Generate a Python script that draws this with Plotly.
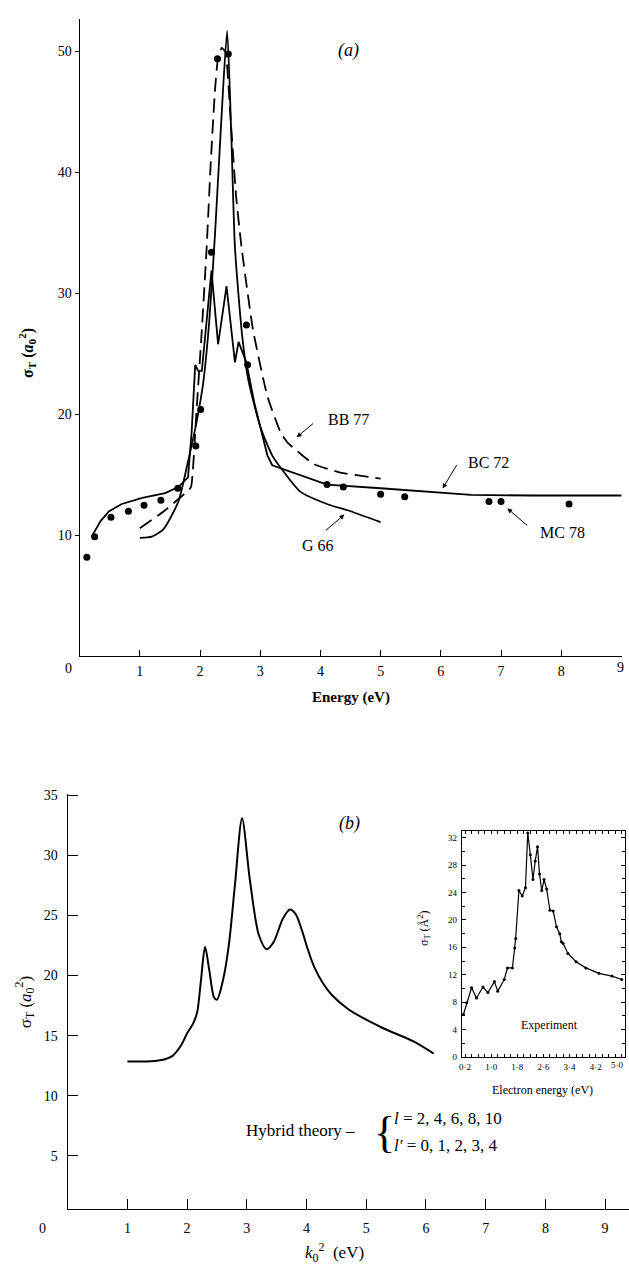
import plotly.graph_objects as go

W, H = 629, 1285
SERIF = "Liberation Serif, Times New Roman, serif"

# ---------------- Panel (a) data ----------------
bc72_e = [0.2, 0.35, 0.49, 0.7, 1.04, 1.42, 1.64, 1.8, 1.86, 1.92, 1.97, 2.03, 2.19, 2.3, 2.44, 2.58, 2.64, 2.77, 2.9, 3.0, 3.12, 3.2, 3.67, 4.11, 5.0, 6.0, 6.5, 7.5, 9.0]
bc72_s = [9.9, 11.2, 12.0, 12.6, 13.1, 13.5, 14.0, 14.8, 18.5, 24.1, 23.6, 23.6, 31.9, 25.8, 30.6, 24.3, 26.0, 24.3, 21.0, 19.1, 16.6, 15.8, 15.0, 14.2, 13.9, 13.5, 13.35, 13.3, 13.3]

g66_e = [1.0, 1.2, 1.39, 1.64, 1.8, 1.94, 2.05, 2.15, 2.25, 2.35, 2.45, 2.52, 2.58, 2.7, 2.8, 3.0, 3.2, 3.4, 3.67, 4.11, 4.5, 5.0]
g66_s = [9.8, 9.9, 10.5, 12.8, 16.1, 19.3, 22.5, 27.5, 35.0, 44.0, 51.7, 43.0, 33.8, 26.5, 22.9, 19.0, 16.6, 15.2, 13.6, 12.6, 12.0, 11.1]

bb77_e = [1.0, 1.4, 1.8, 1.85, 1.94, 2.03, 2.11, 2.18, 2.25, 2.3, 2.36, 2.42, 2.5, 2.6, 2.69, 2.88, 3.12, 3.34, 3.45, 3.89, 4.33, 5.0]
bb77_s = [10.6, 12.0, 13.7, 14.0, 20.2, 27.0, 33.8, 41.0, 46.9, 49.5, 50.3, 50.0, 45.0, 38.0, 33.8, 27.0, 21.5, 18.5, 17.7, 15.9, 15.2, 14.7]

mc78_e = [0.12, 0.25, 0.52, 0.81, 1.07, 1.35, 1.63, 1.93, 2.01, 2.19, 2.29, 2.47, 2.77, 2.79, 4.11, 4.38, 5.0, 5.4, 6.8, 7.0, 8.13]
mc78_s = [8.2, 9.9, 11.5, 12.0, 12.5, 12.9, 13.9, 17.4, 20.4, 33.4, 49.4, 49.8, 27.4, 24.1, 14.2, 14.0, 13.4, 13.2, 12.8, 12.8, 12.6]

a_xticks = [1, 2, 3, 4, 5, 6, 7, 8, 9]
a_xtext = ["1", "2", "3", "4", "5", "6", "7", "8", ""]
a_last_label = "9"
a_yticks = [10, 20, 30, 40, 50]

# ---------------- Panel (b) data ----------------
hyb_k2 = [1.0, 1.3, 1.55, 1.75, 1.9, 2.0, 2.1, 2.17, 2.23, 2.3, 2.37, 2.45, 2.5, 2.6, 2.7, 2.8, 2.92, 3.05, 3.2, 3.33, 3.45, 3.6, 3.72, 3.82, 3.92, 4.02, 4.13, 4.27, 4.42, 4.7, 5.25, 5.8, 6.13]
hyb_s = [12.85, 12.85, 12.95, 13.3, 14.2, 15.2, 16.0, 17.0, 19.5, 22.4, 20.5, 18.2, 18.0, 19.6, 22.6, 27.5, 33.1, 28.0, 23.4, 22.2, 22.8, 24.7, 25.5, 25.1, 23.8, 22.2, 20.7, 19.4, 18.4, 17.2, 15.7, 14.5, 13.5]
b_xticks = [1, 2, 3, 4, 5, 6, 7, 8, 9]
b_yticks = [5, 10, 15, 20, 25, 30, 35]

# ---------------- Inset (experiment) data ----------------
exp_e = [0.15, 0.25, 0.4, 0.55, 0.75, 0.9, 1.1, 1.2, 1.4, 1.5, 1.65, 1.72, 1.75, 1.85, 1.95, 2.05, 2.12, 2.2, 2.28, 2.35, 2.42, 2.48, 2.55, 2.62, 2.7, 2.8, 2.9, 3.0, 3.1, 3.15, 3.2, 3.35, 3.6, 3.9, 4.3, 4.7, 5.0]
exp_s = [6.2, 7.9, 10.1, 8.6, 10.2, 9.4, 11.0, 9.6, 11.3, 13.0, 13.0, 15.9, 17.3, 24.3, 23.5, 24.7, 32.7, 29.5, 25.9, 28.6, 30.7, 26.7, 24.3, 25.9, 24.5, 21.4, 21.3, 19.0, 18.0, 16.8, 16.6, 15.1, 13.9, 13.0, 12.2, 11.8, 11.3]
ins_xticks = [0.2, 1.0, 1.8, 2.6, 3.4, 4.2, 5.0]
ins_xtext = ["0·2", "1·0", "1·8", "2·6", "3·4", "4·2", ""]
ins_last_label = "5·0"
ins_yticks = [0, 4, 8, 12, 16, 20, 24, 28, 32]


def px(x):
    return x / W


def py(y):
    return 1 - y / H


fig = go.Figure()
line_kw = dict(color="black", width=1.8)

fig.add_trace(go.Scatter(x=bc72_e, y=bc72_s, mode="lines", line=line_kw, xaxis="x", yaxis="y", name="BC 72"))
fig.add_trace(go.Scatter(x=g66_e, y=g66_s, mode="lines", line=dict(line_kw, shape="spline", smoothing=0.6), xaxis="x", yaxis="y", name="G 66"))
fig.add_trace(go.Scatter(x=bb77_e, y=bb77_s, mode="lines", line=dict(color="black", width=1.8, dash="14px,7px", shape="spline", smoothing=0.5), xaxis="x", yaxis="y", name="BB 77"))
fig.add_trace(go.Scatter(x=mc78_e, y=mc78_s, mode="markers", marker=dict(color="black", size=7), xaxis="x", yaxis="y", name="MC 78"))

fig.add_trace(go.Scatter(x=hyb_k2, y=hyb_s, mode="lines", line=dict(color="black", width=2, shape="spline", smoothing=0.8), xaxis="x2", yaxis="y2", name="Hybrid"))

fig.add_trace(go.Scatter(x=exp_e, y=exp_s, mode="lines+markers", line=dict(color="black", width=1.2), marker=dict(color="black", size=3), xaxis="x3", yaxis="y3", name="Experiment"))

axis_common = dict(showgrid=False, zeroline=False, showline=True, linecolor="black", linewidth=1.2,
                   tickcolor="black", tickfont=dict(family=SERIF, size=14, color="black"))

fig.update_layout(
    width=W, height=H, margin=dict(l=0, r=0, t=0, b=0),
    paper_bgcolor="white", plot_bgcolor="rgba(0,0,0,0)", showlegend=False,
    xaxis=dict(axis_common, domain=[px(77), px(622)], range=[0, 9.01], anchor="y",
               tickvals=a_xticks, ticktext=a_xtext, ticks="inside", ticklen=6, ticklabelstandoff=2),
    yaxis=dict(axis_common, domain=[py(656), py(13)], range=[0, 52.7], anchor="x",
               tickvals=a_yticks, ticks="outside", ticklen=4),
    xaxis2=dict(axis_common, domain=[px(65), px(629)], range=[0, 9.4], anchor="y2",
                tickvals=b_xticks, ticks="inside", ticklen=10, ticklabelstandoff=6),
    yaxis2=dict(axis_common, domain=[py(1213), py(795)], range=[0.6, 35.1], anchor="x2",
                tickvals=b_yticks, ticks="inside", ticklen=10, ticklabelstandoff=6),
    xaxis3=dict(axis_common, domain=[px(461), px(625)], range=[0.1, 5.1], anchor="y3", mirror="allticks",
                tickvals=ins_xticks, ticktext=ins_xtext, ticks="inside", ticklen=3,
                minor=dict(dtick=0.2, tick0=0, ticks="inside", ticklen=3, tickcolor="black"),
                tickfont=dict(family=SERIF, size=9, color="black"), ticklabelstandoff=1),
    yaxis3=dict(axis_common, domain=[py(1060), py(832)], range=[0, 33], anchor="x3", mirror="allticks",
                tickvals=ins_yticks, ticks="inside", ticklen=4,
                minor=dict(dtick=2, tick0=0, ticks="inside", ticklen=3, tickcolor="black"),
                tickfont=dict(family=SERIF, size=9, color="black"), ticklabelstandoff=2),
)

ann = []


def txt(x, y, s, size=15, angle=0, italic=False, bold=False, xanchor="center"):
    if italic:
        s = "<i>" + s + "</i>"
    if bold:
        s = "<b>" + s + "</b>"
    ann.append(dict(x=px(x), y=py(y), xref="paper", yref="paper", text=s, showarrow=False,
                    textangle=angle, xanchor=xanchor, yanchor="middle",
                    font=dict(family=SERIF, size=size, color="black")))


def arrow(x_head, y_head, x_tail, y_tail):
    ann.append(dict(x=px(x_head), y=py(y_head), xref="paper", yref="paper", text="",
                    showarrow=True, ax=x_tail - x_head, ay=y_tail - y_head,
                    arrowhead=2, arrowsize=1.0, arrowwidth=1, arrowcolor="black"))


# Panel (a) texts
txt(347, 45, "(a)", size=18, italic=True)
txt(66, 668, "0", size=14)
txt(620, 667, a_last_label, size=14)
txt(350, 697, "Energy (eV)", size=15, bold=True)
txt(24, 350, "σ<sub>T</sub> (<i>a</i><sub>0</sub><sup>2</sup>)", size=16, angle=-90, bold=True)
txt(347, 417, "BB 77", size=16)
arrow(295, 435, 313, 420)
txt(488, 460, "BC 72", size=16)
arrow(441.7, 486.7, 456.7, 461.7)
txt(562, 531, "MC 78", size=16)
arrow(506.7, 506.7, 528, 525)
txt(317, 544, "G 66", size=16)
arrow(343, 513, 323, 530)

# Panel (b) texts
txt(348, 825, "(b)", size=18, italic=True)
txt(40, 1233, "0", size=14)
txt(333, 1257, "<i>k</i><sub>0</sub><sup>2</sup>  (eV)", size=17)
txt(22, 1005, "σ<sub>T</sub> (<i>a</i><sub>0</sub><sup>2</sup>)", size=17, angle=-90)
txt(299, 1134, "Hybrid theory –", size=17)
txt(383, 1136, "{", size=44)
txt(391, 1122, "<i>l</i> = 2, 4, 6, 8, 10", size=17, xanchor="left")
txt(391, 1149, "<i>l′</i> = 0, 1, 2, 3, 4", size=17, xanchor="left")

# Inset texts
txt(625, 1068, ins_last_label, size=9, xanchor="right")
txt(549, 1028, "Experiment", size=12)
txt(542, 1093, "Electron energy (eV)", size=12)
txt(423, 930, "σ<sub>T</sub> (Å<sup>2</sup>)", size=12, angle=-90)

fig.update_layout(annotations=ann)

fig.write_html("out.html", config={"displayModeBar": False},
               post_script="document.body.style.margin='0';document.body.style.overflow='hidden';")
